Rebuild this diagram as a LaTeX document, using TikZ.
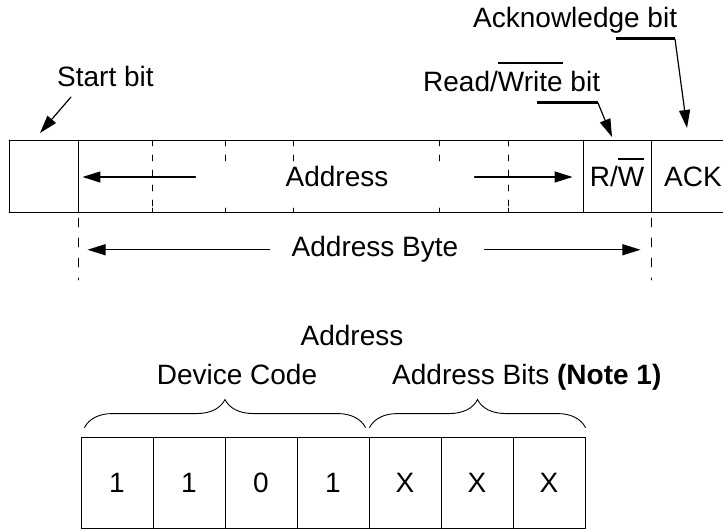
\documentclass[tikz,border=0pt]{standalone}
\usepackage{fontspec}
\setmainfont{Liberation Sans}
\usetikzlibrary{arrows.meta}
\usetikzlibrary{decorations.pathreplacing}
\usetikzlibrary{positioning}
\tikzset{>={Triangle[length=18pt,width=11pt]},
  lbl/.style={font=\fontsize{28}{34}\selectfont,inner sep=0pt,anchor=base},
  cell/.style={draw,line width=0.9pt,minimum width=72pt,minimum height=91pt,
    inner sep=0pt,font=\fontsize{28}{34}\selectfont},
  frame/.style={line width=0.9pt},
  tick/.style={line width=0.9pt,dash pattern=on 6pt off 9pt},
  guide/.style={line width=0.9pt,dash pattern=on 9pt off 11pt},
  bar/.style={line width=3pt,line cap=butt},
  pointer/.style={->,line width=1.2pt}}
\newcommand{\negbar}[1]{\setbox0\hbox{#1}\rlap{\rule[\dimexpr\ht0+8pt\relax]{\wd0}{1.4pt}}\box0\relax}

\begin{document}
\begin{tikzpicture}[x=1pt,y=-1pt,line cap=round]
  \useasboundingbox (0,0) rectangle (723,529);

  % address frame
  \draw [frame] (9,140) -- (740,140);
  \draw [frame] (9,212) -- (740,212);
  \foreach \x in {9,78,583,651}
    \draw [frame] (\x,140) -- (\x,212);
  \foreach \x in {152,508}
    \draw [tick] (\x,140) -- (\x,206);
  \foreach \x in {225,293,439}
    \draw [tick] (\x,140) -- (\x,162);
  \foreach \x in {152,225,293,439,508}
    \draw [frame] (\x,208) -- (\x,212);

  \node [lbl] (addr) at (337,187) {Address};
  \node [lbl] (rw) at (617,187) {R/\negbar{W}};
  \node [lbl,anchor=base west] (ack) at (664,187) {ACK};

  \draw [pointer] ([xshift=-90pt]addr.west) -- ++(-113,0);
  \draw [pointer] ([xshift=86pt]addr.east) -- ++(98,0);

  % labels above
  \node [lbl,anchor=base west] (start) at (57,87) {Start bit};
  \draw [pointer] ([xshift=14pt,yshift=-10pt]start.base west) -- ++(-31,36);

  \node [lbl,anchor=base west] (rwtext) at (423,92) {Read/\negbar{Write} bit};
  \draw [bar] ([xshift=114pt,yshift=-11pt]rwtext.base west) -- ++(61,0) coordinate (rwbend);
  \draw [pointer] (rwbend) -- ++(14,34);

  \node [lbl,anchor=base west] (acktext) at (473,28) {Acknowledge bit};
  \draw [bar] ([xshift=143pt,yshift=-11pt]acktext.base west) -- ++(59,0) coordinate (ackbend);
  \draw [pointer] (ackbend) -- ++(12,89);

  % address byte
  \draw [guide] (78,218) -- (78,280);
  \draw [guide] (651,218) -- (651,280);
  \node [lbl] (byte) at (375,257) {Address Byte};
  \draw [pointer] ([xshift=-22pt]byte.west) -- ++(-182,0);
  \draw [pointer] ([xshift=26pt]byte.east) -- ++(156,0);

  % device code and address bits
  \node [lbl] (whole) at (352,345) {Address};
  \node [lbl] (devcode) at (237,384) {Device Code};
  \node [lbl,anchor=base west] (addrbits) at (392,384) {Address Bits \textbf{(Note 1)}};

  \foreach \b [count=\i] in {1,1,0,1,X,X,X}
    \node [cell] (bit\i) at (45+72*\i,482.5) {\b};

  \draw [frame,decorate,decoration={brace,amplitude=28pt}]
    ([xshift=4pt,yshift=9pt]bit1.north west) -- ([xshift=-4pt,yshift=9pt]bit4.north east);
  \draw [frame,decorate,decoration={brace,amplitude=28pt}]
    ([xshift=1pt,yshift=9pt]bit5.north west) -- ([yshift=9pt]bit7.north east);

\end{tikzpicture}
\end{document}
